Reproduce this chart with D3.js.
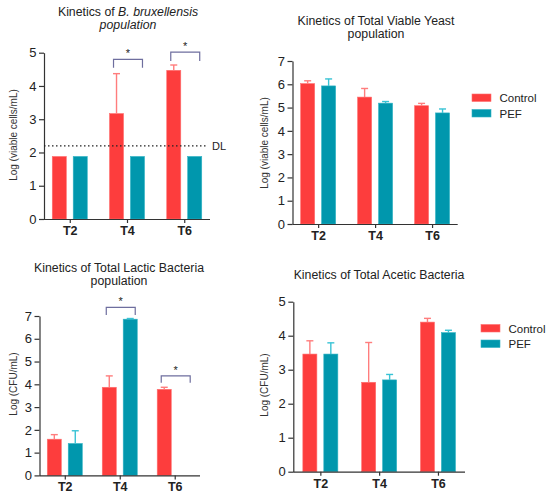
<!DOCTYPE html>
<html lang="en">
<head>
    <meta charset="UTF-8">
    <title>Kinetics of microbial populations</title>
    <style>
        body { margin: 0; background: #fff; }
        svg { font-family: "Liberation Sans", Arial, sans-serif; }
        .tick text { fill: #222; }
    </style>
    <script src="https://d3js.org/d3.v7.min.js"></script>
</head>
<body>
    <svg id="chart" width="550" height="500"></svg>

    <script>
        // categories and series
        const categories = ["T2", "T4", "T6"];
        const series = ["Control", "PEF"];

        // B. bruxellensis (log viable cells/mL)
        const brettControl = [1.88, 3.17, 4.47];
        const brettControlErr = [0, 1.20, 0.16];
        const brettPEF = [1.88, 1.88, 1.88];
        const brettPEFErr = [0, 0, 0];
        const brettTicks = [0, 1, 2, 3, 4, 5];
        const detectionLimit = 2.2;

        // total viable yeast (log viable cells/mL)
        const yeastControl = [6.03, 5.45, 5.08];
        const yeastControlErr = [0.12, 0.37, 0.10];
        const yeastPEF = [5.93, 5.19, 4.77];
        const yeastPEFErr = [0.30, 0.07, 0.17];
        const yeastTicks = [0, 1, 2, 3, 4, 5, 6, 7];

        // total lactic bacteria (log CFU/mL), no PEF value at T6
        const lacticControl = [1.59, 3.87, 3.78];
        const lacticControlErr = [0.20, 0.50, 0.09];
        const lacticPEF = [1.40, 6.86, null];
        const lacticPEFErr = [0.56, 0.03, 0];
        const lacticTicks = [0, 1, 2, 3, 4, 5, 6, 7];

        // total acetic bacteria (log CFU/mL)
        const aceticControl = [3.46, 2.63, 4.40];
        const aceticControlErr = [0.39, 1.17, 0.11];
        const aceticPEF = [3.46, 2.70, 4.09];
        const aceticPEFErr = [0.33, 0.16, 0.07];
        const aceticTicks = [0, 1, 2, 3, 4, 5];

        // significance brackets: category, top value, tip value
        const brettSig = [["T4", 4.80, 4.55], ["T6", 5.02, 4.75]];
        const lacticSig = [["T4", 7.38, 7.04], ["T6", 4.37, 4.07]];

        const barColor = { Control: "#fd3d3d", PEF: "#0097ad" };
        const edgeColor = { Control: "#ff6f6f", PEF: "#2fb3c4" };
        const errColor = { Control: "#ff7d7d", PEF: "#38c3d5" };

        const svg = d3.select("#chart");

        function drawPanel(p) {
            const g = svg.append("g");

            const x = d3.scalePoint()
                .domain(categories)
                .range([p.left, p.right])
                .padding(p.pad);
            const xs = d3.scaleBand()
                .domain(series)
                .range([-17.5, 17.5])
                .paddingInner(0.33);
            const y = d3.scaleLinear()
                .domain([0, d3.max(p.ticks)])
                .range([p.bottom, p.top]);

            const rows = [];
            series.forEach((s, si) => {
                categories.forEach((c, ci) => {
                    if (p.values[si][ci] == null) return;
                    rows.push({ s, c, v: p.values[si][ci], e: p.errors[si][ci] });
                });
            });

            // bars
            g.selectAll("rect.bar")
                .data(rows)
                .enter().append("rect")
                .attr("class", "bar")
                .attr("x", d => x(d.c) + xs(d.s))
                .attr("width", xs.bandwidth())
                .attr("y", d => y(d.v))
                .attr("height", d => y(0) - y(d.v))
                .attr("fill", d => barColor[d.s])
                .attr("stroke", d => edgeColor[d.s])
                .attr("stroke-width", 0.6);

            // upper error bars
            const eb = g.selectAll("g.err")
                .data(rows.filter(d => d.e > 0))
                .enter().append("g")
                .attr("stroke", d => errColor[d.s])
                .attr("stroke-width", 1.4);
            eb.append("line")
                .attr("x1", d => x(d.c) + xs(d.s) + xs.bandwidth() / 2)
                .attr("x2", d => x(d.c) + xs(d.s) + xs.bandwidth() / 2)
                .attr("y1", d => y(d.v))
                .attr("y2", d => y(d.v + d.e));
            eb.append("line")
                .attr("x1", d => x(d.c) + xs(d.s) + xs.bandwidth() / 2 - 3.5)
                .attr("x2", d => x(d.c) + xs(d.s) + xs.bandwidth() / 2 + 3.5)
                .attr("y1", d => y(d.v + d.e))
                .attr("y2", d => y(d.v + d.e));

            // axes
            const yAxis = g.append("g")
                .attr("transform", `translate(${p.left},0)`)
                .call(d3.axisLeft(y).tickValues(p.ticks).tickFormat(d3.format("d"))
                    .tickSize(5).tickPadding(2.5).tickSizeOuter(0));
            yAxis.selectAll("text").attr("font-size", 13);

            const xAxis = g.append("g")
                .attr("transform", `translate(0,${p.bottom})`)
                .call(d3.axisBottom(x).tickSize(4).tickPadding(3).tickSizeOuter(0));
            xAxis.select(".domain").attr("d", `M${p.left},0.5H${p.right}`);
            xAxis.selectAll("text").attr("font-size", 12.5).attr("font-weight", "bold").attr("fill", "#111");

            g.selectAll(".domain, .tick line").attr("stroke", "#333").attr("stroke-width", 1.2);

            // axis title
            g.append("text")
                .attr("transform", `translate(${p.labelX},${p.labelY}) rotate(-90)`)
                .attr("text-anchor", "middle")
                .attr("font-size", 10)
                .attr("fill", "#333")
                .text(p.yLabel);

            // chart title
            const title = g.append("text")
                .attr("text-anchor", "middle")
                .attr("font-size", 12.3)
                .attr("fill", "#222");
            p.title.forEach((line, i) => {
                const t = title.append("tspan")
                    .attr("x", p.titleX)
                    .attr("y", p.titleY + i * 13);
                line.forEach(part => {
                    t.append("tspan")
                        .attr("font-style", part.italic ? "italic" : null)
                        .text(part.text);
                });
            });

            // significance brackets
            (p.sig || []).forEach(([c, top, tip]) => {
                const x0 = x(c) + xs("Control") + xs.bandwidth() / 2 - 3;
                const x1 = x(c) + xs("PEF") + xs.bandwidth() / 2 + 5;
                g.append("path")
                    .attr("d", `M${x0},${y(tip)}V${y(top)}H${x1}V${y(tip)}`)
                    .attr("fill", "none")
                    .attr("stroke", "#6e6e9e")
                    .attr("stroke-width", 1.2);
                g.append("text")
                    .attr("x", (x0 + x1) / 2)
                    .attr("y", y(top) - 2)
                    .attr("text-anchor", "middle")
                    .attr("font-size", 11)
                    .attr("fill", "#222")
                    .text("*");
            });

            // detection limit
            if (p.dl != null) {
                g.append("line")
                    .attr("x1", p.left)
                    .attr("x2", p.right - 3)
                    .attr("y1", y(p.dl))
                    .attr("y2", y(p.dl))
                    .attr("stroke", "#222")
                    .attr("stroke-width", 1.4)
                    .attr("stroke-dasharray", "1.5,2.5");
                g.append("text")
                    .attr("x", p.right + 2)
                    .attr("y", y(p.dl) + 4)
                    .attr("font-size", 11)
                    .attr("fill", "#222")
                    .text("DL");
            }

            // legend
            if (p.legend) {
                const lg = g.append("g").attr("transform", `translate(${p.legend[0]},${p.legend[1]})`);
                series.forEach((s, i) => {
                    lg.append("rect")
                        .attr("x", 0)
                        .attr("y", i * 15.5)
                        .attr("width", 19)
                        .attr("height", 7.5)
                        .attr("fill", barColor[s])
                        .attr("stroke", edgeColor[s])
                        .attr("stroke-width", 0.6);
                    lg.append("text")
                        .attr("x", 27.5)
                        .attr("y", i * 15.5 + 8)
                        .attr("font-size", 11.5)
                        .attr("fill", "#222")
                        .text(s);
                });
            }
        }

        drawPanel({
            values: [brettControl, brettPEF], errors: [brettControlErr, brettPEFErr],
            ticks: brettTicks, dl: detectionLimit, sig: brettSig,
            left: 44, right: 210, top: 52.7, bottom: 219, pad: 0.45,
            yLabel: "Log (viable cells/mL)", labelX: 17, labelY: 135,
            title: [[{ text: "Kinetics of  " }, { text: "B. bruxellensis", italic: true }], [{ text: "population", italic: true }]],
            titleX: 128, titleY: 16
        });

        drawPanel({
            values: [yeastControl, yeastPEF], errors: [yeastControlErr, yeastPEFErr],
            ticks: yeastTicks,
            left: 292.5, right: 457.7, top: 61, bottom: 224, pad: 0.45,
            yLabel: "Log (viable cells/mL)", labelX: 268, labelY: 143,
            title: [[{ text: "Kinetics of Total Viable Yeast" }], [{ text: "population" }]],
            titleX: 376, titleY: 25,
            legend: [472, 94]
        });

        drawPanel({
            values: [lacticControl, lacticPEF], errors: [lacticControlErr, lacticPEFErr],
            ticks: lacticTicks, sig: lacticSig,
            left: 39.5, right: 200, top: 316, bottom: 475.4, pad: 0.46,
            yLabel: "Log (CFU/mL)", labelX: 17, labelY: 384,
            title: [[{ text: "Kinetics of Total Lactic Bacteria" }], [{ text: "population" }]],
            titleX: 119, titleY: 272
        });

        drawPanel({
            values: [aceticControl, aceticPEF], errors: [aceticControlErr, aceticPEFErr],
            ticks: aceticTicks,
            left: 293.3, right: 465, top: 301.7, bottom: 471.7, pad: 0.46,
            yLabel: "Log (CFU/mL)", labelX: 268, labelY: 385,
            title: [[{ text: "Kinetics of Total Acetic Bacteria" }]],
            titleX: 379, titleY: 279,
            legend: [481, 324.5]
        });
    </script>
</body>
</html>
